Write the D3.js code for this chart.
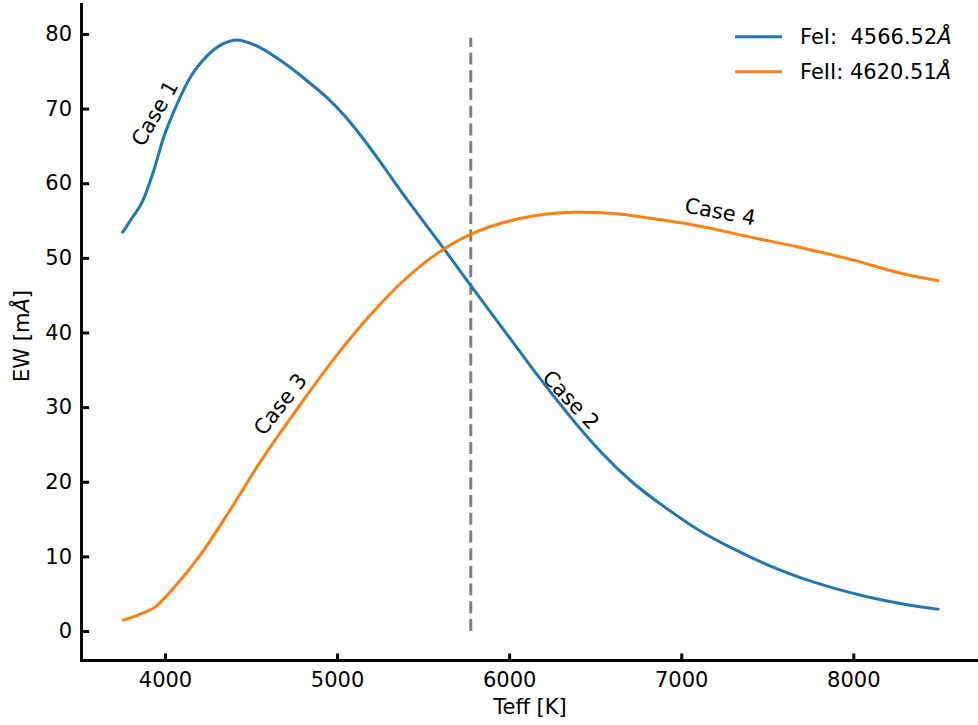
<!DOCTYPE html>
<html>
<head>
<meta charset="utf-8">
<script src="https://cdn.jsdelivr.net/npm/d3@7"></script>
<style>
  body { margin: 0; background: #fff; }
  text { font-family: "DejaVu Sans", sans-serif; fill: #000; }
</style>
</head>
<body>
<svg id="chart" width="978" height="725"></svg>
<script>
// FeI 4566.52 line
var teffFeI = [3750, 3810, 3868, 3932, 3990, 4068, 4145, 4242, 4339, 4417, 4533, 4649, 4843, 4940, 5037, 5134, 5250, 5366, 5628, 5773, 5948, 6141, 6300, 6432, 6529, 6723, 6917, 7110, 7304, 7498, 7692, 7886, 8080, 8273, 8500];
var ewFeI   = [53.3, 55.4, 57.5, 61.5, 66.0, 70.5, 74.1, 77.0, 78.7, 79.2, 78.4, 76.8, 73.4, 71.5, 69.2, 66.5, 62.9, 59.1, 51.0, 46.4, 41.0, 35.0, 30.3, 26.6, 24.1, 19.8, 16.4, 13.4, 11.0, 8.9, 7.15, 5.75, 4.6, 3.7, 2.9];
// FeII 4620.51 line
var teffFeII = [3750, 3850, 3942, 4048, 4203, 4378, 4552, 4785, 5000, 5192, 5366, 5500, 5628, 5773, 5948, 6141, 6394, 6626, 6820, 7000, 7459, 7672, 8000, 8302, 8500];
var ewFeII   = [1.4, 2.2, 3.2, 5.7, 10.1, 16.2, 22.6, 30.3, 37.0, 42.3, 46.5, 49.2, 51.3, 53.1, 54.6, 55.6, 56.1, 55.9, 55.3, 54.7, 52.5, 51.5, 49.7, 47.8, 46.9];

var xTicks = [4000, 5000, 6000, 7000, 8000];
var yTicks = [0, 10, 20, 30, 40, 50, 60, 70, 80];
var sunTeff = 5777;

var caseLabels = [
    { text: "Case 1", teff: 3940, ew: 69.4, angle: -60 },
    { text: "Case 2", teff: 6360, ew: 31.0, angle: 47 },
    { text: "Case 3", teff: 4670, ew: 30.4, angle: -52 },
    { text: "Case 4", teff: 7227, ew: 56.2, angle: 10.5 }
];

var svg = d3.select("#chart");

var x = d3.scaleLinear().domain([3512.5, 8737.5]).range([81.1, 980.2]);
var y = d3.scaleLinear().domain([-3.95, 84.15]).range([660.5, 3]);

var blue = "#1f77b4", orange = "#ff7f0e";
var fs = "21px";

var line = d3.line()
    .x(d => x(d[0]))
    .y(d => y(d[1]))
    .curve(d3.curveMonotoneX);

// reference line for solar Teff
svg.append("line")
    .attr("x1", x(sunTeff)).attr("x2", x(sunTeff))
    .attr("y1", y(0)).attr("y2", y(79.5))
    .attr("stroke", "#808080")
    .attr("stroke-width", 3)
    .attr("stroke-dasharray", "12,5.7");

svg.append("path")
    .datum(d3.zip(teffFeI, ewFeI))
    .attr("d", line)
    .attr("fill", "none")
    .attr("stroke", blue)
    .attr("stroke-width", 3);

svg.append("path")
    .datum(d3.zip(teffFeII, ewFeII))
    .attr("d", line)
    .attr("fill", "none")
    .attr("stroke", orange)
    .attr("stroke-width", 3);

// axes (ticks inward)
var xAxis = svg.append("g")
    .attr("transform", "translate(0," + y.range()[0] + ")")
    .call(d3.axisTop(x).tickValues(xTicks).tickSize(7).tickFormat(d3.format("d")));
xAxis.select(".domain").remove();
xAxis.selectAll(".tick line").attr("stroke", "#000").attr("stroke-width", 3);
xAxis.selectAll(".tick text")
    .attr("y", 11.5).attr("dy", "0.71em")
    .attr("font-size", fs)
    .attr("font-family", "DejaVu Sans");

var yAxis = svg.append("g")
    .attr("transform", "translate(" + x.range()[0] + ",0)")
    .call(d3.axisRight(y).tickValues(yTicks).tickSize(8));
yAxis.select(".domain").remove();
yAxis.selectAll(".tick line").attr("stroke", "#000").attr("stroke-width", 3);
yAxis.selectAll(".tick text")
    .attr("x", -9).attr("text-anchor", "end")
    .attr("font-size", fs)
    .attr("font-family", "DejaVu Sans");

// spines
svg.append("line")
    .attr("x1", x.range()[0] + 0.4).attr("x2", x.range()[0] + 0.4)
    .attr("y1", y.range()[1]).attr("y2", y.range()[0] + 1.5)
    .attr("stroke", "#000").attr("stroke-width", 3);
svg.append("line")
    .attr("x1", x.range()[0] - 1.1).attr("x2", 978)
    .attr("y1", y.range()[0]).attr("y2", y.range()[0])
    .attr("stroke", "#000").attr("stroke-width", 3);

// axis labels
svg.append("text")
    .attr("x", 530).attr("y", 714)
    .attr("text-anchor", "middle")
    .attr("font-size", fs)
    .text("Teff [K]");

var ylab = svg.append("text")
    .attr("transform", "translate(29,336) rotate(-90)")
    .attr("text-anchor", "middle")
    .attr("font-size", fs);
ylab.append("tspan").text("EW [m");
ylab.append("tspan").attr("font-style", "italic").text("Å");
ylab.append("tspan").text("]");

// case annotations
svg.selectAll(".case")
    .data(caseLabels)
    .enter().append("text")
    .attr("class", "case")
    .attr("transform", d => "translate(" + x(d.teff) + "," + y(d.ew) + ") rotate(" + d.angle + ")")
    .attr("text-anchor", "middle")
    .attr("dy", "0.35em")
    .attr("font-size", fs)
    .text(d => d.text);

// legend
var legendItems = [
    { name: "FeI:  4566.52", color: blue },
    { name: "FeII: 4620.51", color: orange }
];
var legend = svg.append("g");
legendItems.forEach(function(item, i) {
    var ly = 36.7 + i * 35;
    legend.append("line")
        .attr("x1", 735).attr("x2", 782)
        .attr("y1", ly).attr("y2", ly)
        .attr("stroke", item.color).attr("stroke-width", 3);
    var t = legend.append("text")
        .attr("x", 800).attr("y", ly + 7.5)
        .attr("font-size", fs)
        .attr("xml:space", "preserve")
        .style("white-space", "pre");
    t.append("tspan").text(item.name);
    t.append("tspan").attr("font-style", "italic").text("Å");
});
</script>
</body>
</html>
